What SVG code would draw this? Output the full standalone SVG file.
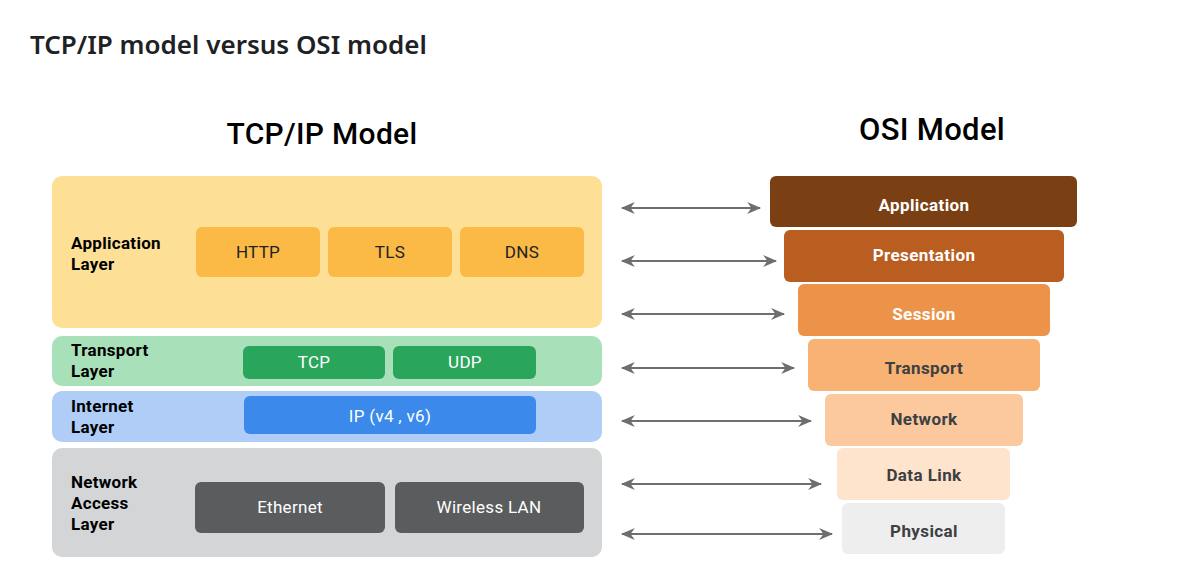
<svg xmlns="http://www.w3.org/2000/svg" width="1178" height="577" viewBox="0 0 1178 577">
<style>
  .title{font-family:"Noto Sans","Open Sans",sans-serif;font-size:26px;font-weight:600;fill:#202124}
  .head{font-family:Roboto,"Liberation Sans",sans-serif;font-size:30px;font-weight:500;fill:#000;text-anchor:middle;letter-spacing:0.3px}
  .lbl{font-family:Roboto,"Liberation Sans",sans-serif;font-size:17px;font-weight:700;fill:#000;letter-spacing:0.3px}
  .in{font-family:Roboto,"Liberation Sans",sans-serif;font-size:17px;font-weight:400;text-anchor:middle;letter-spacing:0.3px}
  .osi{font-family:Roboto,"Liberation Sans",sans-serif;font-size:17px;font-weight:700;text-anchor:middle;letter-spacing:0.4px}
  .w{fill:#fff}
  .d{fill:#202124}
  .g{fill:#3c4043}
  .conn line{stroke:#6e6e6e;stroke-width:2.2;marker-start:url(#ah);marker-end:url(#ah)}
</style>
<defs>
  <marker id="ah" viewBox="0 0 14 12" refX="12" refY="6" markerWidth="15" markerHeight="13" markerUnits="userSpaceOnUse" orient="auto-start-reverse">
    <path d="M0,0.5 L13,6 L0,11.5 L4,6 Z" fill="#6e6e6e"/>
  </marker>
</defs>
<rect width="1178" height="577" fill="#fff"/>
<text class="title" x="30" y="54">TCP/IP model versus OSI model</text>
<text class="head" x="322" y="144">TCP/IP Model</text>
<text class="head" x="932" y="140" style="font-size:31px">OSI Model</text>

<g id="tcp-application">
  <rect x="52" y="176" width="550" height="152" rx="10" fill="#fde096"/>
  <text class="lbl" x="71" y="249">Application</text>
  <text class="lbl" x="71" y="270">Layer</text>
  <rect x="196" y="227" width="124" height="50" rx="6" fill="#fbb946"/>
  <text class="in d" x="258" y="258">HTTP</text>
  <rect x="328" y="227" width="124" height="50" rx="6" fill="#fbb946"/>
  <text class="in d" x="390" y="258">TLS</text>
  <rect x="460" y="227" width="124" height="50" rx="6" fill="#fbb946"/>
  <text class="in d" x="522" y="258">DNS</text>
</g>
<g id="tcp-transport">
  <rect x="52" y="336" width="550" height="50" rx="10" fill="#a8e0ba"/>
  <text class="lbl" x="71" y="356">Transport</text>
  <text class="lbl" x="71" y="377">Layer</text>
  <rect x="243" y="346" width="142" height="33" rx="6" fill="#2aa65c"/>
  <text class="in w" x="314" y="368">TCP</text>
  <rect x="393" y="346" width="143" height="33" rx="6" fill="#2aa65c"/>
  <text class="in w" x="465" y="368">UDP</text>
</g>
<g id="tcp-internet">
  <rect x="52" y="391" width="550" height="51" rx="10" fill="#afcdf7"/>
  <text class="lbl" x="71" y="412">Internet</text>
  <text class="lbl" x="71" y="433">Layer</text>
  <rect x="244" y="396" width="292" height="38" rx="6" fill="#3a89eb"/>
  <text class="in w" x="390" y="422">IP (v4 , v6)</text>
</g>
<g id="tcp-network-access">
  <rect x="52" y="448" width="550" height="109" rx="10" fill="#d4d5d7"/>
  <text class="lbl" x="71" y="488">Network</text>
  <text class="lbl" x="71" y="509">Access</text>
  <text class="lbl" x="71" y="530">Layer</text>
  <rect x="195" y="482" width="190" height="51" rx="6" fill="#5b5c5e"/>
  <text class="in w" x="290" y="513">Ethernet</text>
  <rect x="395" y="482" width="189" height="51" rx="6" fill="#5b5c5e"/>
  <text class="in w" x="489" y="513">Wireless LAN</text>
</g>

<g id="osi-application">
  <rect x="770" y="176" width="307" height="51" rx="6" fill="#7b3f14"/>
  <text class="osi w" x="924" y="211">Application</text>
</g>
<g id="osi-presentation">
  <rect x="784" y="230" width="280" height="52" rx="6" fill="#ba5d20"/>
  <text class="osi w" x="924" y="261">Presentation</text>
</g>
<g id="osi-session">
  <rect x="798" y="284" width="252" height="52" rx="6" fill="#ec9249"/>
  <text class="osi w" x="924" y="320">Session</text>
</g>
<g id="osi-transport">
  <rect x="808" y="339" width="232" height="52" rx="6" fill="#f8b273"/>
  <text class="osi g" x="924" y="374">Transport</text>
</g>
<g id="osi-network">
  <rect x="825" y="394" width="198" height="52" rx="6" fill="#fcc99f"/>
  <text class="osi g" x="924" y="425">Network</text>
</g>
<g id="osi-datalink">
  <rect x="837" y="448" width="173" height="52" rx="6" fill="#fee4cc"/>
  <text class="osi g" x="924" y="481">Data Link</text>
</g>
<g id="osi-physical">
  <rect x="842" y="503" width="163" height="51" rx="6" fill="#eeeeee"/>
  <text class="osi g" x="924" y="537">Physical</text>
</g>

<g id="connectors" class="conn">
  <line x1="622" y1="208" x2="760" y2="208"/>
  <line x1="622" y1="261" x2="776" y2="261"/>
  <line x1="622" y1="314" x2="784" y2="314"/>
  <line x1="622" y1="368" x2="794" y2="368"/>
  <line x1="622" y1="421" x2="811" y2="421"/>
  <line x1="622" y1="484" x2="821" y2="484"/>
  <line x1="622" y1="534" x2="832" y2="534"/>
</g>
</svg>
